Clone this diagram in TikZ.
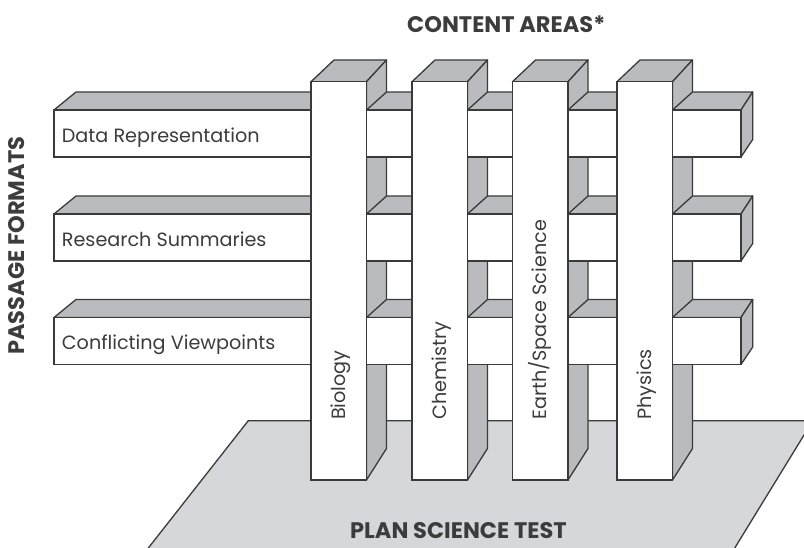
\documentclass[tikz,border=0pt]{standalone}
\usepackage{fontspec}
\setmainfont{Poppins}
\definecolor{facegray}{HTML}{B9BBBE}
\definecolor{plategray}{HTML}{D6D7DA}
\definecolor{edgecol}{HTML}{3A3A3A}
\definecolor{ink}{HTML}{3C3C3C}
\begin{document}
\begin{tikzpicture}[x=1pt,y=-1pt,
  face/.style={fill=facegray, draw=edgecol, line width=1.3pt, line join=round},
  frontface/.style={fill=white, draw=edgecol, line width=1.3pt},
  platestyle/.style={fill=plategray, draw=edgecol, line width=1.3pt},
  lbl/.style={font=\fontsize{19.2}{19.2}\selectfont, text=ink, inner sep=0pt},
  ttl/.style={font=\bfseries\fontsize{22.5}{22.5}\selectfont, text=ink, inner sep=0pt}]
\useasboundingbox (0,0) rectangle (804,548);
% plate
\begin{scope}
\clip (0,0) rectangle (804,548);
\draw[platestyle] (248.3,420.7) -- (812.8,420.7) -- (727.4,560) -- (138.9,560) -- cycle;
\end{scope}
% column top and side faces
\foreach \L in {311,412,512.5,617}{
  \pgfmathsetmacro\R{\L+55.5}
  \draw[face] (\L,81.7) -- ({\L+23},60) -- ({\R+20},60) -- (\R,81.7) -- cycle;
  \draw[face] (\R,81.7) -- ({\R+20},60) -- ({\R+20},448.5) -- (\R,480) -- cycle;
}
% horizontal bars
\foreach \T in {110,214,317.5}{
  \pgfmathsetmacro\B{\T+47}
  \pgfmathsetmacro\U{\T-18}
  % left segment
  \draw[face] (54,\T) -- (76,\U) -- (350,\U) -- (330,\T) -- cycle;
  \draw[frontface] (54,\T) rectangle (330,\B);
  % inner segments
  \foreach \S/\E in {366.5/412, 467.5/512.5, 568/617}{
    \draw[face] (\S,\T) -- ({\S+20},\U) -- ({\E+35},\U) -- ({\E+15},\T) -- cycle;
    \draw[frontface] (\S,\T) rectangle ({\E+15},\B);
  }
  % right segment
  \draw[face] (672.5,\T) -- (692.5,\U) -- (752.7,\U) -- (741,\T) -- cycle;
  \draw[face] (741,\T) -- (752.7,\U) -- (752.7,{\B-17.5}) -- (741,\B) -- cycle;
  \draw[frontface] (672.5,\T) rectangle (741,\B);
}
% column front faces
\foreach \L in {311,412,512.5,617}{
  \draw[frontface] (\L,81.7) rectangle ({\L+55.5},480);
}
% column labels
\node[lbl, rotate=90, anchor=base west] (bio) at (345.3,420) {Biology};
\node[lbl, rotate=90, anchor=base west] (chem) at (446.3,420) {Chemistry};
\node[lbl, rotate=90, anchor=base west] (earth) at (546.8,420) {Earth/Space Science};
\node[lbl, rotate=90, anchor=base west] (phys) at (651.3,420) {Physics};
% row labels
\node[lbl, anchor=base west] (data) at (61.7,143) {Data Representation};
\node[lbl, anchor=base west] (research) at (61.7,246.5) {Research Summaries};
\node[lbl, anchor=base west] (conflict) at (61.7,350) {Conflicting Viewpoints};
% titles
\node[ttl, anchor=base west] (content) at (407,32.7) {CONTENT AREAS*};
\node[ttl, anchor=base west] (plan) at (350,538.3) {PLAN SCIENCE TEST};
\node[ttl, rotate=90, anchor=base west] (passage) at (24,355) {PASSAGE FORMATS};
\end{tikzpicture}
\end{document}
